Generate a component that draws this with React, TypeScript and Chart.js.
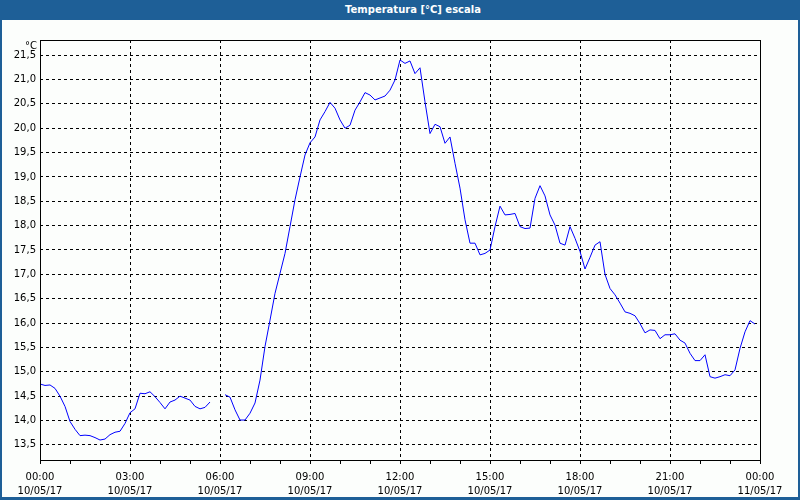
import React, { useEffect, useRef } from 'react';
import { Chart, registerables } from 'chart.js';

Chart.register(...registerables);

const TITLE = 'Temperatura [°C] escala';
const Y_UNIT = '°C';
const STEP_MIN = 10;
const X_MIN = 0;
const X_MAX = 1440;
const Y_MIN = 13.19;
const Y_MAX = 21.81;

// Temperature readings every 10 minutes from 00:00 (null = missing sample)
const temps: (number | null)[] = [
  14.75, 14.72, 14.73, 14.66, 14.50, 14.29, 13.98, 13.82, 13.69, 13.70,
  13.69, 13.65, 13.60, 13.62, 13.71, 13.76, 13.78, 13.94, 14.16, 14.24,
  14.56, 14.55, 14.59, 14.49, 14.37, 14.24, 14.38, 14.42, 14.50, 14.46,
  14.42, 14.29, 14.24, 14.27, 14.38, null, null, 14.53, 14.48, 14.22,
  14.01, 14.01, 14.15, 14.36, 14.83, 15.52, 16.06, 16.61, 17.02, 17.43,
  17.98, 18.53, 19.00, 19.45, 19.70, 19.82, 20.17, 20.34, 20.53, 20.41,
  20.17, 20.00, 20.06, 20.37, 20.54, 20.73, 20.68, 20.58, 20.62, 20.66,
  20.78, 20.99, 21.40, 21.33, 21.38, 21.12, 21.24, 20.54, 19.89, 20.08,
  20.03, 19.69, 19.82, 19.28, 18.77, 18.12, 17.64, 17.64, 17.40, 17.43,
  17.50, 17.98, 18.40, 18.22, 18.23, 18.25, 17.98, 17.94, 17.95, 18.56,
  18.82, 18.61, 18.22, 18.01, 17.64, 17.60, 17.98, 17.74, 17.47, 17.11,
  17.35, 17.60, 17.67, 17.00, 16.71, 16.58, 16.41, 16.23, 16.20, 16.15,
  15.99, 15.80, 15.86, 15.85, 15.68, 15.76, 15.76, 15.78, 15.65, 15.59,
  15.38, 15.23, 15.23, 15.35, 14.90, 14.87, 14.90, 14.94, 14.92, 15.04,
  15.48, 15.82, 16.05, 15.98,
];

const yTicks = [13.5, 14.0, 14.5, 15.0, 15.5, 16.0, 16.5, 17.0, 17.5, 18.0, 18.5, 19.0, 19.5, 20.0, 20.5, 21.0, 21.5];
const xTickMinutes = [0, 60, 120, 180, 240, 300, 360, 420, 480, 540, 600, 660, 720, 780, 840, 900, 960, 1020, 1080, 1140, 1200, 1260, 1320, 1380, 1440];
const xMajorMinutes = [0, 180, 360, 540, 720, 900, 1080, 1260, 1440];
const xTickLabels: string[][] = [
  ['00:00', '10/05/17'],
  ['03:00', '10/05/17'],
  ['06:00', '10/05/17'],
  ['09:00', '10/05/17'],
  ['12:00', '10/05/17'],
  ['15:00', '10/05/17'],
  ['18:00', '10/05/17'],
  ['21:00', '10/05/17'],
  ['00:00', '11/05/17'],
];

const FONT = '"DejaVu Sans", Verdana, sans-serif';
const BAR_BLUE = '#1e5f97';

const framePlugin = {
  id: 'frame',
  afterDatasetsDraw(chart: any) {
    const { ctx, chartArea } = chart;
    ctx.save();
    ctx.strokeStyle = '#000';
    ctx.lineWidth = 1;
    ctx.setLineDash([]);
    const l = Math.round(chartArea.left) + 0.5;
    const t = Math.round(chartArea.top) + 0.5;
    const r = Math.round(chartArea.right) + 0.5;
    const b = Math.round(chartArea.bottom) + 0.5;
    ctx.strokeRect(l, t, r - l, b - t);
    ctx.fillStyle = '#000';
    ctx.font = '10px ' + FONT;
    ctx.textAlign = 'right';
    ctx.textBaseline = 'middle';
    ctx.fillText(Y_UNIT, chartArea.left - 3, chartArea.top + 6);
    ctx.restore();
  },
};

export default function App() {
  const ref = useRef<HTMLCanvasElement>(null);

  useEffect(() => {
    if (!ref.current) return;
    const points = temps.map((t, i) => ({ x: i * STEP_MIN, y: t }));
    const chart = new Chart(ref.current, {
      type: 'line',
      data: {
        datasets: [
          {
            data: points as any,
            borderColor: '#0000ff',
            borderWidth: 1,
            pointRadius: 0,
            tension: 0,
            spanGaps: false,
            fill: false,
          },
        ],
      },
      options: {
        animation: false,
        responsive: false,
        devicePixelRatio: 1,
        layout: { padding: { left: 0, top: 20, right: 38, bottom: 0 } },
        plugins: {
          legend: { display: false },
          title: { display: false },
          tooltip: { enabled: false },
        },
        scales: {
          x: {
            type: 'linear',
            min: X_MIN,
            max: X_MAX,
            afterBuildTicks: (s: any) => {
              s.ticks = xTickMinutes.map((v) => ({ value: v }));
            },
            afterFit: (s: any) => {
              s.height = 37;
            },
            grid: {
              color: (c: any) => {
                const v = c.tick?.value;
                return v !== undefined && v % 180 === 0 && v > X_MIN && v < X_MAX ? '#000' : 'rgba(0,0,0,0)';
              },
              lineWidth: 1,
              tickColor: '#000',
              tickLength: 4,
              drawTicks: true,
            },
            border: { display: false, dash: [3, 3] },
            ticks: {
              autoSkip: false,
              maxRotation: 0,
              minRotation: 0,
              padding: 6,
              color: '#000',
              font: { family: FONT, size: 10, lineHeight: 1.45 },
              callback: (v: any) => {
                const idx = xMajorMinutes.indexOf(Number(v));
                return idx >= 0 ? xTickLabels[idx] : '';
              },
            },
          },
          y: {
            type: 'linear',
            min: Y_MIN,
            max: Y_MAX,
            afterBuildTicks: (s: any) => {
              s.ticks = yTicks.map((v) => ({ value: v }));
            },
            afterFit: (s: any) => {
              s.width = 38;
            },
            grid: {
              color: '#000',
              lineWidth: 1,
              drawTicks: false,
            },
            border: { display: false, dash: [3, 3] },
            ticks: {
              padding: 4,
              color: '#000',
              font: { family: FONT, size: 10 },
              callback: (v: any) => Number(v).toFixed(1).replace('.', ','),
            },
          },
        },
      },
      plugins: [framePlugin],
    });
    return () => chart.destroy();
  }, []);

  return (
    <div
      style={{
        position: 'fixed',
        left: 0,
        top: 0,
        width: 800,
        height: 500,
        background: BAR_BLUE,
        overflow: 'hidden',
      }}
    >
      <div
        style={{
          position: 'absolute',
          left: 0,
          top: 0,
          width: 800,
          height: 20,
          lineHeight: '20px',
          textAlign: 'center',
          color: '#fff',
          fontFamily: FONT,
          fontWeight: 'bold',
          fontSize: 10,
          paddingLeft: 26,
          boxSizing: 'border-box',
        }}
      >
        {TITLE}
      </div>
      <div
        style={{
          position: 'absolute',
          left: 2,
          top: 20,
          width: 796,
          height: 477,
          background: '#fcfefc',
        }}
      >
        <canvas ref={ref} width={796} height={477} style={{ display: 'block', width: 796, height: 477 }} />
      </div>
    </div>
  );
}
